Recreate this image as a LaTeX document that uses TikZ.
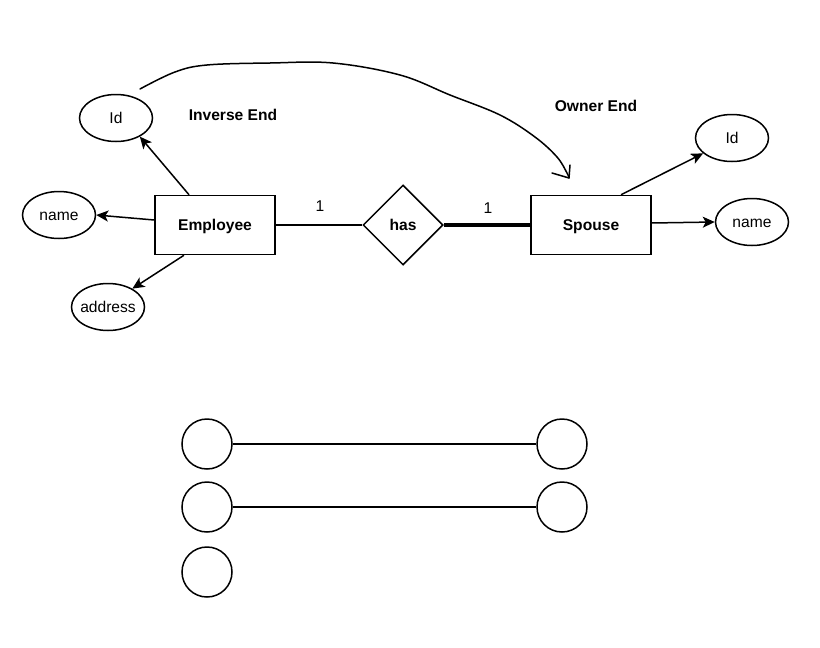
\documentclass[tikz,border=0pt]{standalone}
\usepackage{fontspec}
\setmainfont{Liberation Sans}
\usetikzlibrary{shapes.geometric,arrows.meta}
\tikzset{
  txt/.style={text height=11.2pt, text depth=0pt},
  lbl/.style={txt, font=\fontsize{15.6pt}{18pt}\selectfont, inner sep=0pt},
  bold/.style={txt, font=\fontsize{15.6pt}{18pt}\selectfont\bfseries, inner sep=0pt},
  entity/.style={txt, draw, line width=1.5pt, minimum width=120pt, minimum height=59pt, inner sep=0pt, font=\fontsize{15.6pt}{18pt}\selectfont\bfseries},
  rel/.style={txt, draw, shape=diamond, line width=1.5pt, minimum width=80pt, minimum height=80pt, inner sep=0pt, font=\fontsize{15.6pt}{18pt}\selectfont\bfseries},
  attr/.style={txt, draw, shape=ellipse, line width=1.5pt, minimum width=73pt, minimum height=47pt, inner sep=-8pt, font=\fontsize{15.6pt}{18pt}\selectfont},
  circ/.style={draw, circle, line width=1.5pt, minimum size=50pt, inner sep=0pt},
  arr/.style={line width=1.5pt, -{Stealth[length=12pt,width=11pt,inset=3pt]}},
  link/.style={line width=1.5pt}
}
\begin{document}
\begin{tikzpicture}[x=1pt,y=-1pt]
\useasboundingbox (0,0) rectangle (820,648);
% entities and relation
\node[entity] (emp) at (215,225) {Employee};
\node[rel] (has) at (403,225) {has};
\node[entity] (sp) at (591,225) {Spouse};
% attributes
\node[attr] (id1) at (116,118) {Id};
\node[attr] (nameL) at (59,215) {name};
\node[attr] (addr) at (108,307) {address};
\node[attr] (id2) at (732,138) {Id};
\node[attr] (nameR) at (752,222) {name};
% labels
\node[bold] (inv) at (233,115) {Inverse End};
\node[bold] (own) at (596,106) {Owner End};
\node[lbl] (one1) at (320,206) {1};
\node[lbl] (one2) at (488,208) {1};
% connectors
\draw[link] (emp.east) -- (has.west);
\draw[line width=4pt] (has.east) -- (sp.west);
\draw[arr] ([xshift=-26pt]emp.north) -- (id1.-38);
\draw[arr] ([yshift=5pt]emp.west) -- (nameL.east);
\draw[arr] ([xshift=-31pt]emp.south) -- (addr.37);
\draw[arr] ([xshift=30pt]sp.north) -- (id2.208);
\draw[arr] ([yshift=2pt]sp.east) -- (nameR.west);
% curved arrow
\coordinate (cs) at (140,89);
\coordinate (ce) at (569,178);
\draw[line width=1.5pt, line cap=round, line join=round] plot[smooth, tension=0.6] coordinates {(140,89) (175,72) (207,65) (270,63) (333,63) (400,75) (450,95) (500,115) (535,137) (557,157) (567,173) (569,178)};
\draw[line width=1.5pt, line cap=round, line join=round] (552,173) -- (ce) -- (570,165);
% circles
\node[circ] (c1) at (207,444) {};
\node[circ] (c2) at (562,444) {};
\node[circ] (c3) at (207,507) {};
\node[circ] (c4) at (562,507) {};
\node[circ] (c5) at (207,572) {};
\draw[link] (c1.east) -- (c2.west);
\draw[link] (c3.east) -- (c4.west);
\end{tikzpicture}
\end{document}
